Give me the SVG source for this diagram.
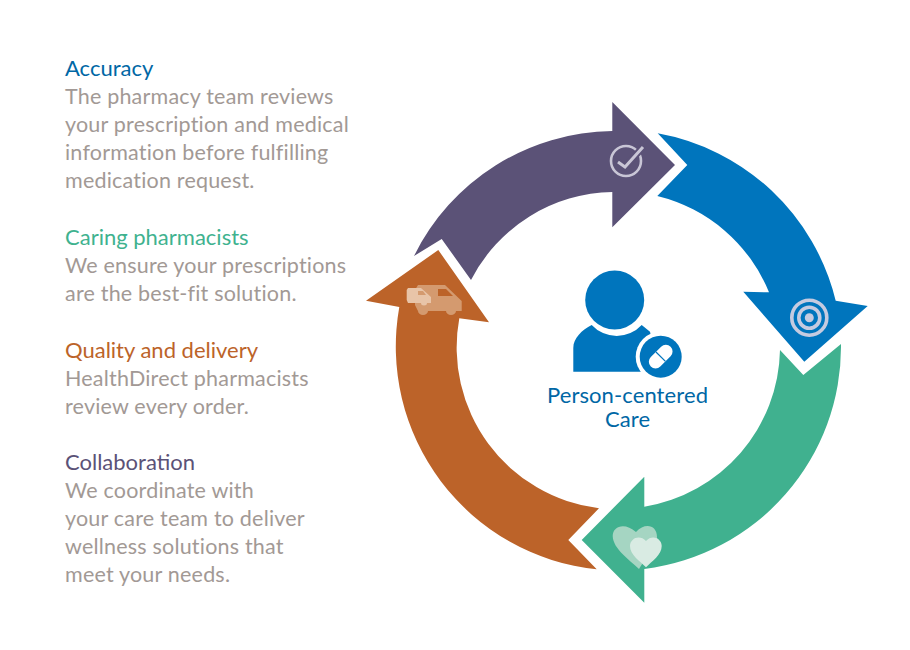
<svg xmlns="http://www.w3.org/2000/svg" width="910" height="650" viewBox="0 0 910 650">
<style>
text{font-family:"Lato","Liberation Sans",sans-serif;font-size:21.5px;letter-spacing:.2px}
.b{fill:#a29995}
.h{font-size:22px;letter-spacing:0}
.c{font-size:22px;letter-spacing:.1px;fill:#0067a5}
</style>
<rect width="910" height="650" fill="#fff"/>
<g id="legend" transform="translate(0 -0.8)">
<g id="accuracy"><text class="h" x="65" y="77" fill="#0067a5">Accuracy</text>
<text class="b" x="65" y="105">The pharmacy team reviews</text><text class="b" x="65" y="133">your prescription and medical</text><text class="b" x="65" y="161">information before fulfilling</text><text class="b" x="65" y="189">medication request.</text></g>
<g id="caring"><text class="h" x="65" y="246" fill="#3fb28f">Caring pharmacists</text>
<text class="b" x="65" y="274">We ensure your prescriptions</text><text class="b" x="65" y="302">are the best-fit solution.</text></g>
<g id="quality"><text class="h" x="65" y="359" fill="#bc6329">Quality and delivery</text>
<text class="b" x="65" y="387">HealthDirect pharmacists</text><text class="b" x="65" y="415">review every order.</text></g>
<g id="collaboration"><text class="h" x="65" y="471" fill="#5b5277">Collaboration</text>
<text class="b" x="65" y="499">We coordinate with</text><text class="b" x="65" y="527">your care team to deliver</text><text class="b" x="65" y="555">wellness solutions that</text><text class="b" x="65" y="583">meet your needs.</text></g>
</g>
<g id="connectors">
<path id="arrow-purple" fill="#5b5277" d="M414 256L441.700 239L471 280A162 162 0 0 1 612.300 192V227.300L675 165L612.300 102V131A224 224 0 0 0 414 256Z"/>
<path id="arrow-blue" fill="#0075bd" d="M657.700 133.300L687.300 165L657.300 196A162 162 0 0 1 769 292.300L743.300 291.700L804.300 361.700L867.700 306L835.700 300.700A224 224 0 0 0 657.700 133.300Z"/>
<path id="arrow-green" fill="#40b18f" d="M841 344L803.300 375L780 350A162 162 0 0 1 644.300 506.700V476.700L581.700 540L644.300 602.700V569A224 224 0 0 0 841 344Z"/>
<path id="arrow-orange" fill="#bc6329" d="M438.300 250L366 300.700L399.300 307A224 224 0 0 0 596.700 569.300L568.300 540L599 508.300A162 162 0 0 1 459.300 318.300L489 322.300Z"/>
</g>
<g id="icon-check" fill="none" stroke="#c9c6d6">
<circle cx="626" cy="161" r="15" stroke-width="2.600"/>
<path stroke="#5b5277" stroke-width="7" d="M618 162L625 167L643 147"/>
<path stroke-width="3" d="M618 162L625 167L643 147"/>
</g>
<g id="icon-target" fill="none" stroke="#c5cbe0" stroke-width="3.600">
<circle cx="809.300" cy="317.700" r="17.500"/><circle cx="809.300" cy="317.700" r="10.500"/><circle cx="809.300" cy="317.700" r="4.500" fill="#c5cbe0" stroke="none"/>
</g>
<g id="icon-hearts">
<path fill="#a5d5c2" d="M639 569C630 560 613 549 612.700 536C612.700 526 625 522 636 532C645 522 657 525 657 537C657 549 645 558 639 569Z"/>
<path fill="#d9ebe3" d="M646 567.300C640 561 630 555 630 546C630 538 640 534 646 541C652 534 661.700 538 661.700 546C661.700 555 652 561 646 567.300Z"/>
</g>
<g id="icon-van">
<path fill="#d49a6f" d="M418 285H445L461.700 301V311H456A5 4 0 0 1 446 311H428A5 4 0 0 1 418 311L415 305V290Z"/>
<path fill="#bc6329" d="M438 289H446L453 296H438Z"/>
<path fill="#e8c4a8" d="M408 288H421L431 297V303H427A3 2.500 0 0 1 421 303H408L406.700 300V290Z"/>
<path fill="#d49a6f" d="M418 291H423L426 295H418Z"/>
</g>
<g id="center">
<circle cx="614.700" cy="300" r="29.500" fill="#0075bd"/>
<path fill="#0075bd" d="M573.300 371.700V348C573.300 338 582 330 591.700 325A34 34 0 0 0 641.700 325L650 331.700L660 371.700Z"/>
<circle cx="660.700" cy="356.700" r="25" fill="#fff"/>
<circle cx="660.700" cy="356.700" r="21" fill="#0075bd"/>
<g transform="rotate(-45 660.700 356.700)"><rect x="646.700" y="350" width="28" height="13.400" rx="6.700" fill="#fff"/><path d="M660.700 350V363.400" stroke="#0075bd" stroke-width="1.200"/></g>
<text class="c" x="627.500" y="402.500" text-anchor="middle">Person-centered</text>
<text class="c" x="627.500" y="426.500" text-anchor="middle">Care</text>
</g>
</svg>
